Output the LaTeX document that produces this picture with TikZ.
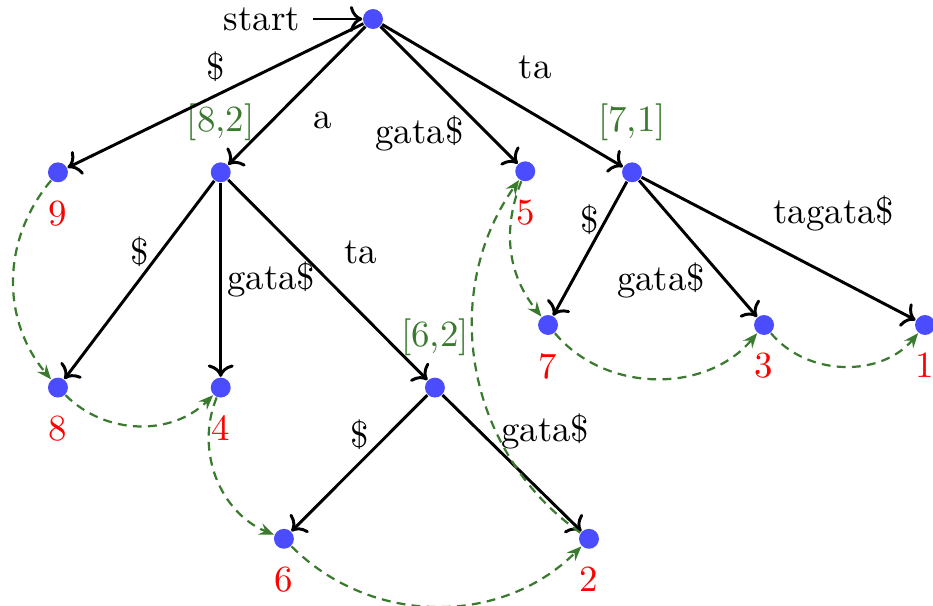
\documentclass[tikz,border=0pt]{standalone}
\usepackage{tikz}
\usetikzlibrary{positioning,arrows.meta}

\definecolor{linkgreen}{RGB}{58,122,46}

\tikzset{
  dot/.style={circle, fill=blue!70, inner sep=0pt, minimum size=5.4pt},
  leafnum/.style={label={[red, label distance=1.2pt]below:#1}},
  span/.style={label={[linkgreen, label distance=2.2pt]above:#1}},
  edge/.style={->, thick},
  slink/.style={-{Stealth[length=4pt,width=3.2pt,inset=1.4pt]}, semithick, linkgreen,
                dash pattern=on 2.4pt off 1.7pt},
}

\begin{document}
\begin{tikzpicture}[every node/.style={font=\normalsize}]
    \useasboundingbox (-3.552,0.181) rectangle (5.333,-5.581);

    % Root and start arrow
    \node[dot] (root) at (0,0) {};
    \node[left=0.47cm of root] (start) {start};
    \draw[edge] (start) -- (root);

    % First level
    \node[dot, leafnum=9] (n9) at (-3.0,-1.46) {};
    \node[dot, span={[8,2]}] (a) at (-1.45,-1.46) {};
    \node[dot, leafnum=5] (n5) at (1.45,-1.45) {};
    \node[dot, span={[7,1]}] (ta) at (2.467,-1.46) {};

    % Below "a"
    \node[dot, leafnum=8] (n8) at (-3.0,-3.51) {};
    \node[dot, leafnum=4] (n4) at (-1.45,-3.51) {};
    \node[dot, span={[6,2]}] (ata) at (0.59,-3.51) {};

    % Below "ta"
    \node[dot, leafnum=7] (n7) at (1.667,-2.914) {};
    \node[dot, leafnum=3] (n3) at (3.724,-2.914) {};
    \node[dot, leafnum=1] (n1) at (5.257,-2.914) {};

    % Below "ata"
    \node[dot, leafnum=6] (n6) at (-0.848,-4.95) {};
    \node[dot, leafnum=2] (n2) at (2.057,-4.95) {};

    % Tree edges
    \draw[edge] (root) -- node[above] {\$} (n9);
    \draw[edge] (root) -- node[below right=1pt] {a} (a);
    \draw[edge] (root) -- node[below=2pt, xshift=-8pt] {gata\$} (n5);
    \draw[edge] (root) -- node[above right=1pt] {ta} (ta);
    \draw[edge] (a) -- node[above] {\$} (n8);
    \draw[edge] (a) -- node[right=-2pt] {gata\$} (n4);
    \draw[edge] (a) -- node[above right=1pt] {ta} (ata);
    \draw[edge] (ata) -- node[above] {\$} (n6);
    \draw[edge] (ata) -- node[above, xshift=9pt] {gata\$} (n2);
    \draw[edge] (ta) -- node[above] {\$} (n7);
    \draw[edge] (ta) -- node[below=0pt, xshift=-10pt] {gata\$} (n3);
    \draw[edge] (ta) -- node[above=1pt, xshift=15pt] {tagata\$} (n1);

    % Leaf links
    \draw[slink] (n9) to[bend right=40] (n8);
    \draw[slink] (n8) to[bend right=45] (n4);
    \draw[slink] (n4) to[bend right=45] (n6);
    \draw[slink] (n6) to[bend right=45] (n2);
    \draw[slink] (n2) to[bend left=45] (n5);
    \draw[slink] (n5) to[bend right=30] (n7);
    \draw[slink] (n7) to[bend right=50] (n3);
    \draw[slink] (n3) to[bend right=50] (n1);
\end{tikzpicture}
\end{document}
